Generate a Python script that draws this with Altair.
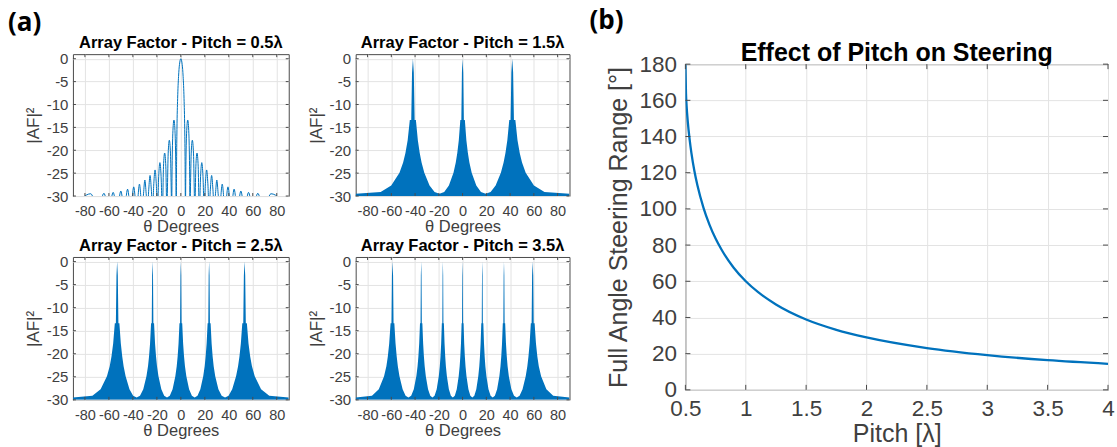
import altair as alt
import pandas as pd

BLUE = "#0072BD"
FONT = "Liberation Sans"
GRAY = "#404040"
BOX = "#4a4a4a"

# ---------------- (a) Array factor, pitch = 0.5 lambda : lobe peaks, shoulders and nulls (dB)
theta_05 = [-90, -75.16, -68.96, -64.16, -60.07, -56.44, -53.13, -50.05, -47.17, -44.43,
            -41.81, -39.30, -36.87, -34.52, -32.23, -31.12, -30.00, -28.91, -27.82, -26.75,
            -25.68, -24.63, -23.58, -22.55, -21.51, -20.49, -19.47, -18.47, -17.46, -16.47,
            -15.47, -15.06, -14.48, -13.49, -12.52, -11.93, -11.54, -11.15, -10.57, -9.59,
            -8.63, -8.05, -7.66, -7.28, -6.70, -5.74, -4.78, -4.20, -3.82, -3.55,
            -3.25, -2.67, -1.91, -1.15,
            0,
            1.15, 1.91, 2.67, 3.25, 3.55, 3.82, 4.20, 4.78, 5.74, 6.70,
            7.28, 7.66, 8.05, 8.63, 9.59, 10.57, 11.15, 11.54, 11.93, 12.52,
            13.49, 14.48, 15.06, 15.47, 16.47, 17.46, 18.47, 19.47, 20.49, 21.51,
            22.55, 23.58, 24.63, 25.68, 26.75, 27.82, 28.91, 30.00, 31.12, 32.23,
            34.52, 36.87, 39.30, 41.81, 44.43, 47.17, 50.05, 53.13, 56.44, 60.07,
            64.16, 68.96, 75.16, 90]
af_05 = [-33, -29.5, -33, -29.4, -33, -29.2, -33, -28.9, -33, -28.5,
         -33, -28.0, -33, -27.4, -33, -29.5, -26.5, -29.5, -33, -28.5,
         -25.5, -28.5, -33, -27.3, -24.3, -27.3, -33, -25.7, -22.7, -25.7,
         -33, -30.8, -23.6, -20.6, -23.6, -30.8, -33, -28.0, -20.8, -17.8,
         -20.8, -28.0, -33, -23.6, -16.4, -13.4, -16.4, -23.6, -33, -22.5,
         -15.5, -8.7, -3.9, -1.3,
         0,
         -1.3, -3.9, -8.7, -15.5, -22.5, -33, -23.6, -16.4, -13.4, -16.4,
         -23.6, -33, -28.0, -20.8, -17.8, -20.8, -28.0, -33, -30.8, -23.6,
         -20.6, -23.6, -30.8, -33, -25.7, -22.7, -25.7, -33, -27.3, -24.3,
         -27.3, -33, -28.5, -25.5, -28.5, -33, -29.5, -26.5, -29.5, -33,
         -27.4, -33, -28.0, -33, -28.5, -33, -28.9, -33, -29.2, -33,
         -29.4, -33, -29.5, -33]

# ---------------- pitch = 1.5 lambda : sidelobe envelope (dB)
theta_15 = [-90, -68.96, -60.07, -53.13, -50.05, -48.11, -46.24, -44.43, -43.23, -42.56,
            -41.81, -41.06, -40.39, -39.30, -37.67, -36.08, -34.52, -32.23, -27.82, -23.58,
            -19.47, -15.47, -11.54, -7.66, -5.74, -4.46, -3.19, -1.91, -1.06, -0.56,
            0,
            0.56, 1.06, 1.91, 3.19, 4.46, 5.74, 7.66, 11.54, 15.47, 19.47,
            23.58, 27.82, 32.23, 34.52, 36.08, 37.67, 39.30, 40.39, 41.06, 41.81,
            42.56, 43.23, 44.43, 46.24, 48.11, 50.05, 53.13, 60.07, 68.96, 90]
af_15 = [-29.5, -29.1, -27.7, -24.9, -22.7, -20.6, -17.8, -13.4, -13.4, -3,
         0, -3, -13.4, -13.4, -17.8, -20.6, -22.7, -24.9, -27.7, -29.1,
         -29.5, -29.1, -27.7, -24.9, -22.7, -20.6, -17.8, -13.4, -13.4, -3,
         0,
         -3, -13.4, -13.4, -17.8, -20.6, -22.7, -24.9, -27.7, -29.1, -29.5,
         -29.1, -27.7, -24.9, -22.7, -20.6, -17.8, -13.4, -13.4, -3, 0,
         -3, -13.4, -13.4, -17.8, -20.6, -22.7, -24.9, -27.7, -29.1, -29.5]

# ---------------- pitch = 2.5 lambda : sidelobe envelope (dB)
theta_25 = [-90, -73.74, -66.93, -61.64, -59.32, -57.85, -56.44, -55.08, -54.19, -53.69,
            -53.13, -52.57, -52.07, -51.26, -50.05, -48.88, -47.73, -46.05, -42.84, -39.79,
            -36.87, -34.06, -31.33, -28.69, -27.39, -26.53, -25.68, -24.83, -24.27, -23.95,
            -23.58, -23.21, -22.89, -22.33, -21.51, -20.69, -19.88, -18.66, -16.26, -13.89,
            -11.54, -9.21, -6.89, -4.59, -3.44, -2.67, -1.91, -1.15, -0.63, -0.34,
            0,
            0.34, 0.63, 1.15, 1.91, 2.67, 3.44, 4.59, 6.89, 9.21, 11.54,
            13.89, 16.26, 18.66, 19.88, 20.69, 21.51, 22.33, 22.89, 23.21, 23.58,
            23.95, 24.27, 24.83, 25.68, 26.53, 27.39, 28.69, 31.33, 34.06, 36.87,
            39.79, 42.84, 46.05, 47.73, 48.88, 50.05, 51.26, 52.07, 52.57, 53.13,
            53.69, 54.19, 55.08, 56.44, 57.85, 59.32, 61.64, 66.93, 73.74, 90]
af_25 = [-29.5, -29.1, -27.7, -24.9, -22.7, -20.6, -17.8, -13.4, -13.4, -3,
         0, -3, -13.4, -13.4, -17.8, -20.6, -22.7, -24.9, -27.7, -29.1,
         -29.5, -29.1, -27.7, -24.9, -22.7, -20.6, -17.8, -13.4, -13.4, -3,
         0, -3, -13.4, -13.4, -17.8, -20.6, -22.7, -24.9, -27.7, -29.1,
         -29.5, -29.1, -27.7, -24.9, -22.7, -20.6, -17.8, -13.4, -13.4, -3,
         0,
         -3, -13.4, -13.4, -17.8, -20.6, -22.7, -24.9, -27.7, -29.1, -29.5,
         -29.1, -27.7, -24.9, -22.7, -20.6, -17.8, -13.4, -13.4, -3, 0,
         -3, -13.4, -13.4, -17.8, -20.6, -22.7, -24.9, -27.7, -29.1, -29.5,
         -29.1, -27.7, -24.9, -22.7, -20.6, -17.8, -13.4, -13.4, -3, 0,
         -3, -13.4, -13.4, -17.8, -20.6, -22.7, -24.9, -27.7, -29.1, -29.5]

# ---------------- pitch = 3.5 lambda : sidelobe envelope (dB)
theta_35 = [-90, -76.28, -70.54, -66.11, -64.16, -62.94, -61.78, -60.62, -59.87, -59.46,
            -58.99, -58.52, -58.11, -57.45, -56.44, -55.46, -54.51, -53.13, -50.48, -47.98,
            -45.58, -43.29, -41.08, -38.94, -37.90, -37.21, -36.53, -35.85, -35.40, -35.14,
            -34.85, -34.56, -34.30, -33.86, -33.20, -32.56, -31.91, -30.95, -29.06, -27.20,
            -25.38, -23.58, -21.80, -20.05, -19.18, -18.60, -18.03, -17.46, -17.07, -16.85,
            -16.60, -16.35, -16.13, -15.75, -15.18, -14.62, -14.06, -13.21, -11.54, -9.87,
            -8.21, -6.56, -4.92, -3.28, -2.46, -1.91, -1.36, -0.82, -0.45, -0.24,
            0,
            0.24, 0.45, 0.82, 1.36, 1.91, 2.46, 3.28, 4.92, 6.56, 8.21,
            9.87, 11.54, 13.21, 14.06, 14.62, 15.18, 15.75, 16.13, 16.35, 16.60,
            16.85, 17.07, 17.46, 18.03, 18.60, 19.18, 20.05, 21.80, 23.58, 25.38,
            27.20, 29.06, 30.95, 31.91, 32.56, 33.20, 33.86, 34.30, 34.56, 34.85,
            35.14, 35.40, 35.85, 36.53, 37.21, 37.90, 38.94, 41.08, 43.29, 45.58,
            47.98, 50.48, 53.13, 54.51, 55.46, 56.44, 57.45, 58.11, 58.52, 58.99,
            59.46, 59.87, 60.62, 61.78, 62.94, 64.16, 66.11, 70.54, 76.28, 90]
af_35 = [-29.5, -29.1, -27.7, -24.9, -22.7, -20.6, -17.8, -13.4, -13.4, -3,
         0, -3, -13.4, -13.4, -17.8, -20.6, -22.7, -24.9, -27.7, -29.1,
         -29.5, -29.1, -27.7, -24.9, -22.7, -20.6, -17.8, -13.4, -13.4, -3,
         0, -3, -13.4, -13.4, -17.8, -20.6, -22.7, -24.9, -27.7, -29.1,
         -29.5, -29.1, -27.7, -24.9, -22.7, -20.6, -17.8, -13.4, -13.4, -3,
         0, -3, -13.4, -13.4, -17.8, -20.6, -22.7, -24.9, -27.7, -29.1,
         -29.5, -29.1, -27.7, -24.9, -22.7, -20.6, -17.8, -13.4, -13.4, -3,
         0,
         -3, -13.4, -13.4, -17.8, -20.6, -22.7, -24.9, -27.7, -29.1, -29.5,
         -29.1, -27.7, -24.9, -22.7, -20.6, -17.8, -13.4, -13.4, -3, 0,
         -3, -13.4, -13.4, -17.8, -20.6, -22.7, -24.9, -27.7, -29.1, -29.5,
         -29.1, -27.7, -24.9, -22.7, -20.6, -17.8, -13.4, -13.4, -3, 0,
         -3, -13.4, -13.4, -17.8, -20.6, -22.7, -24.9, -27.7, -29.1, -29.5,
         -29.1, -27.7, -24.9, -22.7, -20.6, -17.8, -13.4, -13.4, -3, 0,
         -3, -13.4, -13.4, -17.8, -20.6, -22.7, -24.9, -27.7, -29.1, -29.5]

# ---------------- (b) steering range vs pitch
pitch_b = [0.5, 0.505, 0.51, 0.52, 0.535, 0.55, 0.575, 0.6, 0.65, 0.7, 0.75, 0.8,
           0.9, 1.0, 1.1, 1.25, 1.5, 1.75, 2.0, 2.5, 3.0, 3.5, 4.0]
range_b = [180, 163.7, 157.0, 148.1, 138.4, 130.8, 120.8, 112.9, 100.6, 91.2, 83.6, 77.4,
           67.5, 60.0, 54.1, 47.2, 38.9, 33.2, 29.0, 23.1, 19.2, 16.4, 14.4]

x_ticks_af = [-80, -60, -40, -20, 0, 20, 40, 60, 80]
y_ticks_af = [0, -5, -10, -15, -20, -25, -30]
x_ticks_b = [0.5, 1, 1.5, 2, 2.5, 3, 3.5, 4]
y_ticks_b = [0, 20, 40, 60, 80, 100, 120, 140, 160, 180]
panel_titles = ["Array Factor - Pitch = 0.5λ", "Array Factor - Pitch = 1.5λ",
                "Array Factor - Pitch = 2.5λ", "Array Factor - Pitch = 3.5λ"]


def af_x():
    return alt.X("theta:Q",
                 scale=alt.Scale(domain=[-90, 90], nice=False, zero=False),
                 axis=alt.Axis(values=x_ticks_af, labelExpr="'' + datum.value",
                               labelFontSize=14.5, labelPadding=8.5, labelOverlap=False,
                               labelFlush=False, title="θ Degrees", titleFontSize=16.5,
                               titleY=35.5, titleBaseline="alphabetic"))


def af_y():
    return alt.Y("af:Q",
                 scale=alt.Scale(domain=[-30, 1], nice=False, zero=False),
                 axis=alt.Axis(values=y_ticks_af, labelExpr="'' + datum.value",
                               labelFontSize=15, labelPadding=5, labelOverlap=False,
                               labelFlush=False, title="|AF|²", titleFontSize=17,
                               titleX=-34.5, titleBaseline="alphabetic"))


def bx():
    return alt.X("pitch:Q", scale=alt.Scale(domain=[0.5, 4], nice=False, zero=False),
                 axis=alt.Axis(values=x_ticks_b, labelExpr="'' + datum.value",
                               labelFontSize=22.5, labelPadding=8, labelFlush=False,
                               labelOverlap=False, title="Pitch [λ]", titleFontSize=25,
                               titleY=51.5, titleBaseline="alphabetic"))


def by():
    return alt.Y("range:Q", scale=alt.Scale(domain=[0, 180], nice=False, zero=False),
                 axis=alt.Axis(values=y_ticks_b, labelFontSize=22.5, labelPadding=9,
                               labelFlush=False, labelOverlap=False,
                               title="Full Angle Steering Range [°]", titleFontSize=25,
                               titleX=-59, titleBaseline="alphabetic"))


def text_at(txt, dx, dy, size, font=FONT, align="center", baseline="alphabetic"):
    return alt.Chart(pd.DataFrame({"t": [txt]})).mark_text(
        align=align, baseline=baseline, font=font, fontWeight="bold",
        fontSize=size, color="black").encode(x=alt.value(dx), y=alt.value(dy), text="t:N")


def inner_ticks(xf, yf, xticks, yticks, xenc, yenc, w, h, ln):
    """MATLAB-style inward tick marks on the four edges of the box."""
    dfx = pd.DataFrame({xf: xticks})
    dfy = pd.DataFrame({yf: yticks})
    rule = dict(color=BOX, strokeWidth=1)
    return [
        alt.Chart(dfx).mark_rule(**rule).encode(x=xenc(), y=alt.value(h), y2=alt.value(h - ln)),
        alt.Chart(dfx).mark_rule(**rule).encode(x=xenc(), y=alt.value(0), y2=alt.value(ln)),
        alt.Chart(dfy).mark_rule(**rule).encode(y=yenc(), x=alt.value(0), x2=alt.value(ln)),
        alt.Chart(dfy).mark_rule(**rule).encode(y=yenc(), x=alt.value(w), x2=alt.value(w - ln)),
    ]


df05 = pd.DataFrame({"theta": theta_05, "af": af_05})
df15 = pd.DataFrame({"theta": theta_15, "af": af_15})
df25 = pd.DataFrame({"theta": theta_25, "af": af_25})
df35 = pd.DataFrame({"theta": theta_35, "af": af_35})

line05 = alt.Chart(df05).mark_line(color=BLUE, strokeWidth=1, interpolate="monotone",
                                   clip=True).encode(x=af_x(), y=af_y())
p1 = alt.layer(
    line05,
    *inner_ticks("theta", "af", x_ticks_af, y_ticks_af, af_x, af_y, 216, 142, 3),
    text_at(panel_titles[0], 108, -6, 16.5),
    text_at("(a)", -65, -44, 26, font="Open Sans", align="left", baseline="top"),
).properties(width=216, height=142)


def dense(df, w, h, t):
    area = alt.Chart(df).mark_area(color=BLUE, interpolate="linear", clip=True).encode(
        x=af_x(), y=af_y(), y2=alt.datum(-30))
    return alt.layer(
        area,
        *inner_ticks("theta", "af", x_ticks_af, y_ticks_af, af_x, af_y, w, h, 3),
        text_at(t, w / 2, -6, 16.5),
    ).properties(width=w, height=h)


p2 = dense(df15, 214, 142, panel_titles[1])
p3 = dense(df25, 216, 143, panel_titles[2])
p4 = dense(df35, 214, 143, panel_titles[3])

left = alt.concat(p1, p2, p3, p4, columns=2,
                  spacing=alt.RowColnumber(row=61, column=67), bounds="flush")

dfb = pd.DataFrame({"pitch": pitch_b, "range": range_b})
lineb = alt.Chart(dfb).mark_line(color=BLUE, strokeWidth=2.3, interpolate="monotone",
                                 clip=True).encode(x=bx(), y=by())
pb = alt.layer(
    lineb,
    *inner_ticks("pitch", "range", x_ticks_b, y_ticks_b, bx, by, 423, 326, 5),
    text_at("Effect of Pitch on Steering", 211.5, -3.3, 25),
    text_at("(b)", -96, -56, 26, font="Open Sans", align="left", baseline="top"),
).properties(width=423, height=326)

spacer = alt.Chart(pd.DataFrame({"z": [0]})).mark_point(opacity=0).properties(
    width=423, height=1, view=alt.ViewBackground(stroke="transparent"))
right = alt.vconcat(spacer, pb, spacing=9, bounds="flush")

chart = alt.hconcat(left, right, spacing=18).properties(
    padding={"left": 7, "top": 7, "right": 2, "bottom": 0}
).configure_view(stroke=BOX, strokeWidth=1).configure_axis(
    gridColor="#e3e3e3", gridOpacity=1, domain=False, ticks=False,
    labelFont=FONT, titleFont=FONT, labelColor=GRAY, titleColor=GRAY,
    titleFontWeight="normal"
)

chart.save("out.html", embed_options={"renderer": "svg", "actions": False})
